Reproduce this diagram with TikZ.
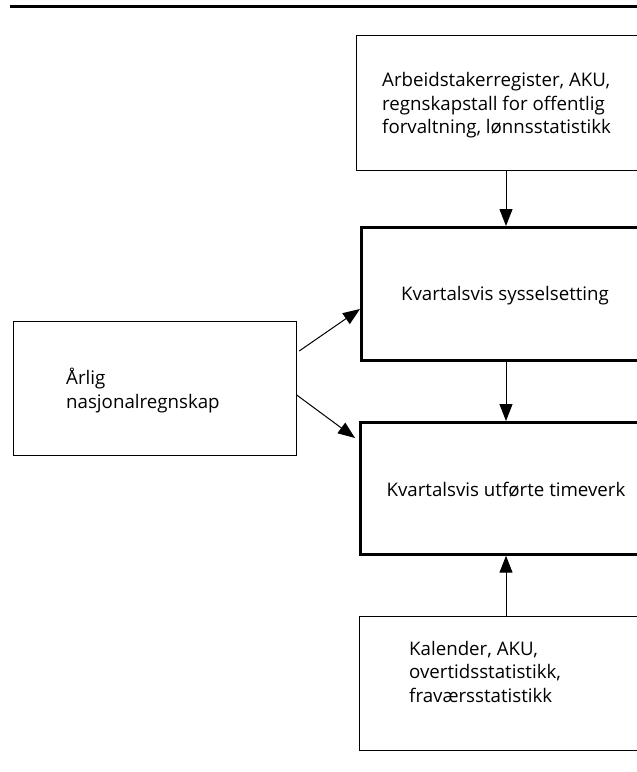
\documentclass[tikz,border=0pt]{standalone}
\usepackage{fontspec}
\setmainfont{Open Sans}
\usetikzlibrary{arrows.meta,calc}
\begin{document}
\begin{tikzpicture}[x=1pt,y=-1pt,
  thinbox/.style={draw=black, line width=1pt, anchor=north west, inner sep=0pt},
  thickbox/.style={draw=black, line width=3pt, anchor=north west, inner sep=0pt},
  lbl/.style={font=\fontsize{18.7}{23.5}\selectfont, align=left, inner sep=0pt, anchor=base west},
  arr/.style={-{Triangle[length=17pt,width=13pt]}, line width=1pt}]
\useasboundingbox (0,0) rectangle (637,772);
\clip (0,0) rectangle (637,772);
% top rule
\coordinate (ruleL) at (10,6.5);
\coordinate (ruleR) at (640,6.5);
\draw[line width=2.2pt] (ruleL) -- (ruleR);
% boxes
\node[thinbox, minimum width=320pt, minimum height=134.7pt] (src) at (356,35) {};
\node[thickbox, minimum width=320pt, minimum height=132.7pt] (ks) at (360,226) {};
\node[thickbox, minimum width=320pt, minimum height=131.7pt] (kt) at (359,421) {};
\node[thinbox, minimum width=320pt, minimum height=134pt] (bot) at (358.5,616) {};
\node[thinbox, minimum width=283pt, minimum height=133.5pt] (nat) at (12.7,321) {};
% texts (base = baseline of last line)
\node[lbl] (srct) at (382,133.5) {Arbeidstakerregister, AKU,\\regnskapstall for offentlig\\forvaltning, lønnsstatistikk};
\node[lbl, anchor=base] (kst) at (505,300.7) {Kvartalsvis sysselsetting};
\node[lbl, anchor=base] (ktt) at (506,496.7) {Kvartalsvis utførte timeverk};
\node[lbl] (bott) at (409,702) {Kalender, AKU,\\overtidsstatistikk,\\fraværsstatistikk};
\node[lbl] (natt) at (66,408) {Årlig\\nasjonalregnskap};
% connectors
\coordinate (ax) at (506,0);
\draw[arr] (src.south west -| ax) -- (ks.north west -| ax);
\draw[arr] (ks.south west -| ax) -- (kt.north west -| ax);
\draw[arr] (bot.north west -| ax) -- (kt.south west -| ax);
\draw[arr] ($(nat.north east)+(2.5,30)$) -- ($(ks.north west)+(0,83)$);
\draw[arr] ($(nat.north east)+(0,74)$) -- ($(kt.north west)+(-4,17)$);
\end{tikzpicture}
\end{document}
